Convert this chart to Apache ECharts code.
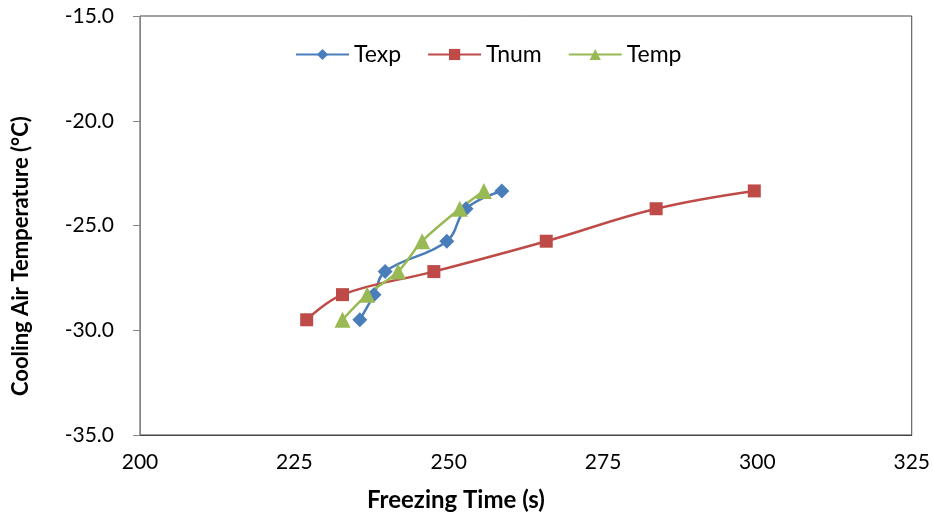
<!DOCTYPE html>
<html><head><meta charset="utf-8">
<script src="https://cdn.jsdelivr.net/npm/echarts@6/dist/echarts.min.js"></script>
<style>html,body{margin:0;padding:0;background:#fff}#c{width:933px;height:521px}</style>
</head><body><div id="c"></div>
<script>
const texpX = [235.6, 237.9, 239.7, 249.7, 252.8, 258.6];
const texpY = [-29.5, -28.3, -27.2, -25.75, -24.2, -23.35];
const tnumX = [227.0, 232.8, 247.6, 265.8, 283.6, 299.5];
const tnumY = [-29.5, -28.3, -27.2, -25.75, -24.2, -23.35];
const tempX = [232.8, 236.8, 241.8, 245.7, 251.8, 255.7];
const tempY = [-29.5, -28.3, -27.2, -25.75, -24.2, -23.35];
const xTicks = [200, 225, 250, 275, 300, 325];
const yTicks = [-35, -30, -25, -20, -15];

const font = 'Lato, "Open Sans", sans-serif';
const zip = (a, b) => a.map((v, i) => [v, b[i]]);
const chart = echarts.init(document.getElementById('c'));
chart.setOption({
  animation: false,
  grid: {left: 140, right: 21, top: 16, bottom: 86, show: true, borderColor: '#444', borderWidth: 1},
  legend: {
    top: 38, left: 290, itemGap: 26, itemWidth: 53, itemHeight: 14,
    textStyle: {fontFamily: font, fontSize: 23, color: '#000'},
    data: ['Texp', 'Tnum', 'Temp']
  },
  xAxis: {
    type: 'value', min: xTicks[0], max: xTicks[xTicks.length - 1], interval: 25,
    axisLine: {show: true, lineStyle: {color: '#444'}},
    axisTick: {show: false}, splitLine: {show: false},
    axisLabel: {fontFamily: font, fontSize: 21, color: '#000', margin: 17}
  },
  yAxis: {
    type: 'value', min: yTicks[0], max: yTicks[yTicks.length - 1], interval: 5,
    axisLine: {show: true, lineStyle: {color: '#868686'}},
    axisTick: {show: true, length: 7, lineStyle: {color: '#868686'}}, splitLine: {show: false},
    axisLabel: {fontFamily: font, fontSize: 21, color: '#000', margin: 26, formatter: v => v.toFixed(1)}
  },
  graphic: [
    {type: 'text', left: 367, top: 488, style: {text: 'Freezing Time (s)', font: 'bold 24px ' + font, fill: '#000'}},
    {type: 'text', rotation: Math.PI / 2, x: 10, y: 396, style: {text: 'Cooling Air Temperature (°C)', font: 'bold 22px ' + font, fill: '#000'}}
  ],
  series: [
    {name: 'Texp', type: 'line', data: zip(texpX, texpY), smooth: 0.4, symbol: 'diamond', symbolSize: 15,
     itemStyle: {color: '#4A7EBB'}, lineStyle: {width: 2.5, color: '#4A7EBB'}},
    {name: 'Tnum', type: 'line', data: zip(tnumX, tnumY), smooth: 0.4, symbol: 'rect', symbolSize: 13,
     itemStyle: {color: '#BE4B48'}, lineStyle: {width: 2.5, color: '#BE4B48'}},
    {name: 'Temp', type: 'line', data: zip(tempX, tempY), smooth: 0.3, symbol: 'triangle', symbolSize: 16,
     itemStyle: {color: '#98B954'}, lineStyle: {width: 2.5, color: '#98B954'}}
  ]
});
</script></body></html>
